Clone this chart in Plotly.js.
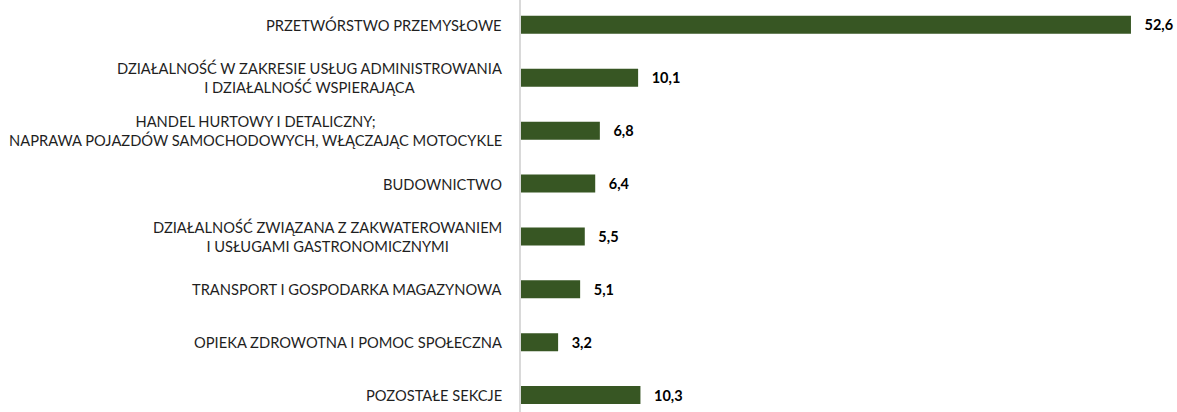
<!DOCTYPE html>
<html>
<head>
<meta charset="utf-8">
<script src="https://cdn.plot.ly/plotly-3.0.1.min.js"></script>
<style>
  body { margin: 0; background: #fff; }
  #chart { width: 1177px; height: 412px; }
</style>
</head>
<body>
<div id="chart"></div>
<script>
var sections = [
  'PRZETWÓRSTWO PRZEMYSŁOWE',
  'DZIAŁALNOŚĆ W ZAKRESIE USŁUG ADMINISTROWANIA<br>I DZIAŁALNOŚĆ WSPIERAJĄCA',
  'HANDEL HURTOWY I DETALICZNY;<br>NAPRAWA POJAZDÓW SAMOCHODOWYCH, WŁĄCZAJĄC MOTOCYKLE',
  'BUDOWNICTWO',
  'DZIAŁALNOŚĆ ZWIĄZANA Z ZAKWATEROWANIEM<br>I USŁUGAMI GASTRONOMICZNYMI',
  'TRANSPORT I GOSPODARKA MAGAZYNOWA',
  'OPIEKA ZDROWOTNA I POMOC SPOŁECZNA',
  'POZOSTAŁE SEKCJE'
];
var shares = [52.6, 10.1, 6.8, 6.4, 5.5, 5.1, 3.2, 10.3];

var barTrace = {
  type: 'bar',
  orientation: 'h',
  x: shares,
  y: sections,
  width: 0.34,
  marker: { color: '#375623' },
  texttemplate: '\u00a0\u00a0\u00a0%{x:.1f}',
  textposition: 'outside',
  cliponaxis: false,
  textfont: { family: 'Lato, sans-serif', size: 14.5, color: '#000', weight: 'bold' },
  hoverinfo: 'none'
};

// category labels as centred blocks to the left of the axis
var labels = sections.map(function (s) {
  return {
    x: 0, xref: 'paper', y: s, yref: 'y',
    xanchor: 'right', yanchor: 'middle', align: 'center',
    xshift: -17, text: s, showarrow: false,
    font: { family: 'Lato, sans-serif', size: 14.7, color: '#1f1f1f' }
  };
});

var layout = {
  width: 1177,
  height: 412,
  margin: { l: 521, r: 0, t: 0, b: 0 },
  separators: ', ',
  showlegend: false,
  plot_bgcolor: '#fff',
  paper_bgcolor: '#fff',
  xaxis: {
    range: [0, 56.57],
    showgrid: false, zeroline: false, showticklabels: false, showline: false
  },
  yaxis: {
    type: 'category',
    range: [7.32, -0.47],
    showgrid: false, zeroline: false, showticklabels: false,
    showline: true, linecolor: '#d9d9d9', linewidth: 2
  },
  annotations: labels
};

Plotly.newPlot('chart', [barTrace], layout, { staticPlot: true });
</script>
</body>
</html>
